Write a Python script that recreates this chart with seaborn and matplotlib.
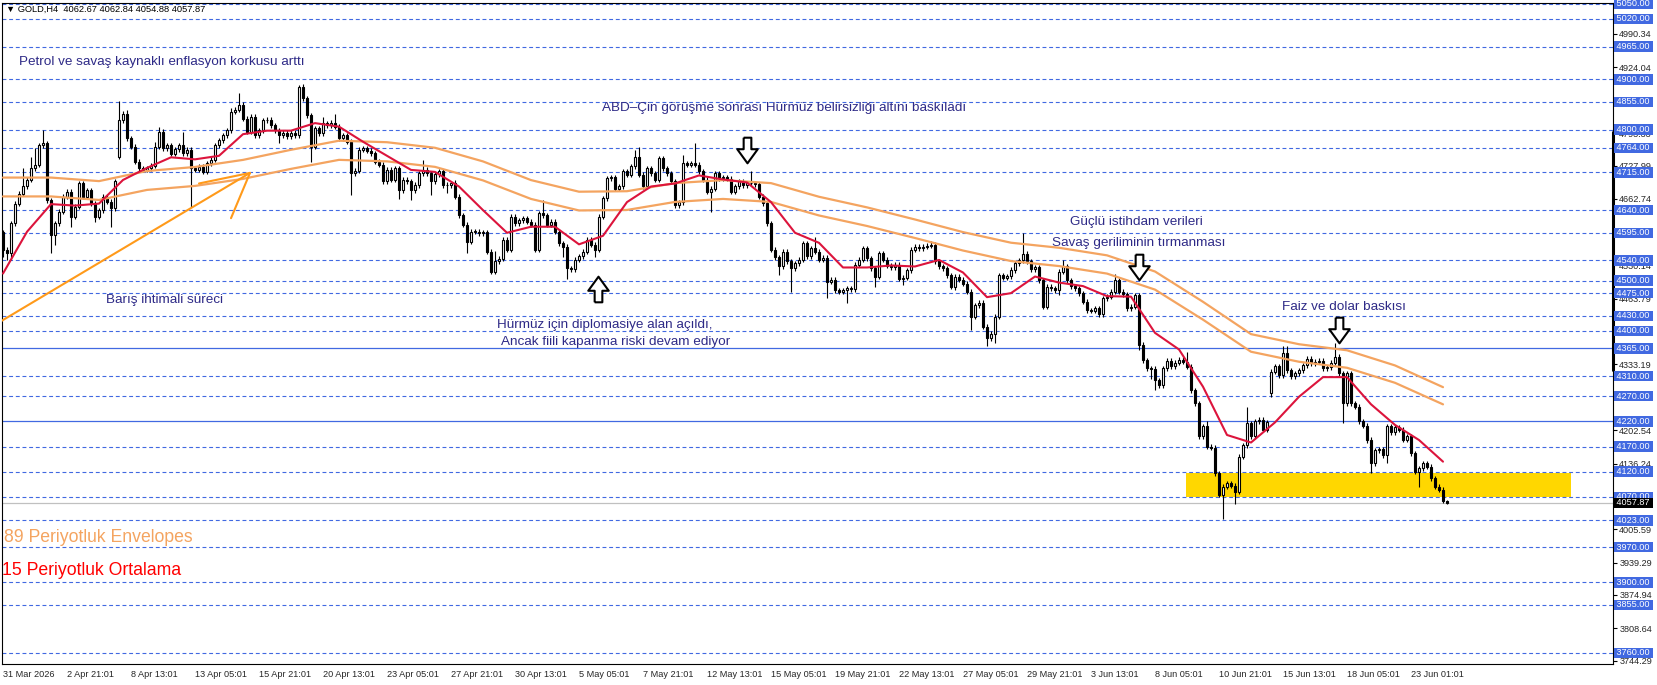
import numpy as np
import pandas as pd
import matplotlib
matplotlib.use("Agg")
import matplotlib.pyplot as plt
import seaborn as sns

# Grafik stili
sns.set_style("white")
plt.rcParams['font.family'] = ['Liberation Sans', 'DejaVu Sans']

# ---- Veri: GOLD H4 mumları (kapanışlar, fitiller) ----
first_open = 4597
closes = [
    4561, 4554, 4614, 4653, 4673, 4688, 4700, 4723, 4730, 4769,
    4773, 4660, 4591, 4614, 4637, 4667, 4677, 4627, 4647, 4693,
    4667, 4680, 4653, 4627, 4640, 4667, 4657, 4644, 4697, 4819,
    4832, 4783, 4766, 4736, 4723, 4720, 4723, 4728, 4766, 4796,
    4763, 4769, 4752, 4761, 4769, 4753, 4760, 4723, 4720, 4726,
    4716, 4733, 4740, 4769, 4779, 4789, 4799, 4836, 4840, 4849,
    4822, 4796, 4826, 4789, 4799, 4819, 4820, 4809, 4799, 4789,
    4794, 4787, 4794, 4789, 4885, 4862, 4829, 4766, 4803, 4793,
    4813, 4809, 4814, 4806, 4783, 4789, 4776, 4713, 4718, 4760,
    4763, 4758, 4753, 4736, 4730, 4697, 4720, 4700, 4723, 4680,
    4700, 4697, 4680, 4690, 4713, 4720, 4713, 4697, 4711, 4717,
    4690, 4689, 4693, 4667, 4630, 4611, 4577, 4597, 4597, 4594,
    4596, 4557, 4518, 4538, 4543, 4581, 4561, 4627, 4614, 4620,
    4624, 4617, 4611, 4561, 4634, 4630, 4611, 4617, 4597, 4574,
    4567, 4524, 4523, 4541, 4548, 4557, 4581, 4571, 4561, 4627,
    4664, 4703, 4705, 4683, 4687, 4717, 4710, 4727, 4746, 4710,
    4687, 4723, 4713, 4700, 4743, 4723, 4713, 4697, 4650, 4656,
    4733, 4730, 4733, 4730, 4717, 4700, 4677, 4683, 4713, 4703,
    4705, 4702, 4677, 4687, 4697, 4690, 4693, 4693, 4691, 4667,
    4654, 4614, 4561, 4546, 4528, 4557, 4538, 4524, 4534, 4541,
    4574, 4548, 4564, 4557, 4541, 4545, 4498, 4502, 4481, 4478,
    4481, 4485, 4483, 4531, 4541, 4564, 4544, 4524, 4508, 4554,
    4541, 4529, 4526, 4531, 4504, 4506, 4520, 4561, 4567, 4564,
    4567, 4569, 4571, 4538, 4528, 4524, 4511, 4488, 4508, 4502,
    4494, 4478, 4428, 4451, 4456, 4408, 4385, 4394, 4428, 4511,
    4506, 4509, 4521, 4534, 4540, 4553, 4538, 4522, 4526, 4501,
    4448, 4488, 4485, 4481, 4518, 4528, 4501, 4489, 4485, 4475,
    4458, 4441, 4440, 4445, 4433, 4465, 4468, 4478, 4501, 4478,
    4473, 4445, 4448, 4471, 4372, 4342, 4326, 4325, 4302, 4292,
    4326, 4341, 4330, 4337, 4343, 4339, 4329, 4282, 4256, 4190,
    4210, 4170, 4168, 4117, 4074, 4090, 4097, 4092, 4080, 4150,
    4173, 4216, 4190, 4220, 4223, 4203, 4218, 4319, 4330, 4312,
    4355, 4322, 4310, 4316, 4322, 4332, 4345, 4336, 4339, 4341,
    4326, 4328, 4337, 4349, 4316, 4256, 4316, 4256, 4249, 4220,
    4211, 4183, 4137, 4163, 4165, 4153, 4210, 4198, 4208, 4203,
    4184, 4190, 4157, 4120, 4127, 4137, 4130, 4107, 4090, 4084,
    4062.67, 4057.87,
]
# hafta sonu boşlukları (açılış != önceki kapanış)
gap_opens = {29: 4746, 317: 4276}

wick_up = [
    3, 5, 5, 5, 5, 35, 5, 23, 33, 5,
    26, 5, 5, 5, 5, 5, 5, 5, 5, 5,
    5, 5, 5, 5, 5, 5, 5, 5, 5, 37,
    5, 8, 5, 5, 5, 5, 5, 5, 10, 10,
    5, 5, 5, 5, 5, 27, 5, 5, 5, 5,
    5, 5, 5, 5, 5, 5, 5, 7, 5, 23,
    5, 5, 5, 5, 5, 5, 5, 5, 5, 5,
    5, 5, 5, 5, 4, 5, 5, 5, 5, 5,
    13, 5, 5, 18, 5, 5, 5, 5, 5, 5,
    5, 5, 5, 5, 5, 5, 5, 5, 5, 5,
    5, 5, 5, 5, 5, 20, 5, 5, 5, 5,
    5, 5, 5, 7, 5, 5, 5, 5, 5, 5,
    5, 5, 5, 21, 5, 5, 5, 5, 5, 5,
    5, 5, 5, 5, 5, 26, 5, 5, 5, 5,
    5, 5, 5, 5, 5, 5, 5, 5, 5, 5,
    5, 5, 5, 5, 5, 5, 5, 5, 14, 19,
    5, 5, 5, 5, 5, 5, 5, 5, 5, 5,
    17, 5, 5, 40, 5, 5, 5, 5, 5, 5,
    5, 5, 5, 5, 5, 5, 5, 24, 5, 5,
    5, 5, 5, 5, 5, 5, 5, 5, 5, 5,
    5, 5, 5, 23, 5, 5, 5, 5, 5, 5,
    5, 5, 5, 5, 5, 5, 5, 5, 5, 5,
    5, 5, 5, 5, 5, 5, 5, 5, 5, 5,
    5, 5, 8, 5, 5, 5, 5, 5, 5, 5,
    5, 5, 5, 5, 5, 5, 5, 5, 5, 5,
    5, 5, 5, 5, 5, 41, 5, 5, 5, 5,
    5, 5, 5, 5, 5, 13, 5, 5, 5, 5,
    5, 5, 5, 5, 5, 5, 5, 5, 13, 5,
    5, 5, 5, 5, 5, 5, 5, 5, 5, 5,
    5, 5, 5, 5, 5, 5, 19, 5, 5, 5,
    5, 10, 5, 5, 5, 5, 5, 5, 5, 5,
    5, 33, 5, 5, 5, 5, 5, 5, 5, 5,
    14, 14, 5, 5, 5, 5, 5, 5, 5, 5,
    5, 5, 5, 26, 5, 5, 5, 5, 5, 5,
    5, 5, 5, 5, 5, 5, 5, 5, 5, 5,
    5, 5, 5, 5, 5, 5, 5, 5, 5, 5,
    5, 0.17,
]
wick_dn = [
    14, 13, 13, 5, 5, 5, 5, 5, 5, 5,
    5, 5, 37, 20, 5, 5, 5, 20, 5, 5,
    5, 5, 5, 10, 5, 5, 5, 37, 5, 5,
    5, 5, 5, 5, 5, 5, 5, 5, 5, 5,
    5, 5, 5, 5, 5, 5, 5, 76, 5, 5,
    5, 5, 5, 5, 5, 5, 5, 5, 5, 5,
    5, 5, 5, 5, 5, 5, 5, 5, 5, 16,
    5, 5, 5, 5, 5, 5, 5, 30, 5, 5,
    5, 5, 5, 5, 5, 5, 5, 43, 5, 5,
    5, 5, 5, 5, 5, 5, 5, 5, 5, 17,
    5, 5, 20, 5, 5, 5, 5, 27, 5, 5,
    5, 15, 5, 5, 5, 5, 23, 5, 5, 5,
    5, 5, 5, 5, 5, 5, 5, 5, 5, 5,
    5, 5, 5, 5, 5, 5, 5, 5, 5, 5,
    20, 20, 5, 5, 5, 5, 5, 5, 14, 5,
    5, 5, 5, 5, 5, 5, 5, 5, 5, 5,
    5, 5, 5, 5, 5, 5, 5, 5, 5, 5,
    5, 5, 5, 5, 5, 5, 5, 40, 5, 5,
    5, 5, 5, 5, 5, 5, 5, 5, 5, 5,
    5, 5, 5, 5, 17, 5, 5, 46, 5, 5,
    5, 5, 5, 5, 5, 5, 33, 5, 5, 5,
    5, 26, 5, 5, 5, 5, 5, 5, 20, 5,
    5, 5, 5, 5, 5, 13, 5, 5, 5, 5,
    5, 5, 5, 5, 5, 5, 5, 5, 7, 5,
    5, 5, 26, 5, 5, 5, 16, 5, 19, 5,
    5, 5, 5, 5, 5, 5, 5, 5, 5, 5,
    5, 5, 5, 5, 10, 5, 5, 5, 5, 5,
    5, 5, 5, 5, 5, 5, 5, 5, 5, 5,
    5, 5, 5, 5, 10, 5, 5, 20, 19, 5,
    5, 5, 5, 5, 5, 5, 5, 5, 5, 5,
    5, 5, 5, 5, 5, 48, 5, 5, 24, 5,
    5, 5, 5, 5, 5, 5, 5, 7, 5, 5,
    5, 5, 5, 5, 5, 5, 5, 5, 5, 5,
    5, 5, 5, 5, 5, 40, 5, 5, 5, 5,
    5, 5, 19, 5, 5, 5, 16, 5, 5, 5,
    5, 5, 5, 5, 30, 5, 5, 5, 5, 5,
    5, 2.99,
]

# 15 periyotluk ortalama (her 6 mumda bir okunan değerler)
ma_step = 6
ma15 = [
    4514, 4597, 4652, 4649, 4653, 4700, 4724, 4745, 4741, 4748,
    4791, 4798, 4798, 4813, 4806, 4776, 4748, 4720, 4716, 4687,
    4640, 4595, 4607, 4607, 4572, 4589, 4656, 4687, 4693, 4709,
    4701, 4695, 4656, 4595, 4575, 4526, 4526, 4530, 4528, 4541,
    4516, 4467, 4475, 4508, 4496, 4489, 4469, 4468, 4396, 4363,
    4289, 4193, 4178, 4218, 4269, 4308, 4308, 4254, 4213, 4183,
    4140,
]
# 89 periyotluk envelopes orta hattı (her 12 mumda bir) ve sapma
env_step = 12
env_mid = [
    4686, 4686, 4679, 4699, 4707, 4721, 4741, 4759, 4756, 4745,
    4718, 4681, 4658, 4659, 4675, 4681, 4675, 4648, 4627, 4603,
    4578, 4557, 4547, 4532, 4500, 4440, 4376, 4356, 4344, 4314,
    4271,
]
env_dev = 0.004

# yatay seviyeler
dashed_levels = [5050, 5020, 4965, 4900, 4855, 4800, 4764, 4715, 4640, 4595,
                 4540, 4500, 4475, 4430, 4400, 4310, 4270, 4170, 4120, 4070,
                 4023, 3970, 3900, 3855, 3760]
solid_levels = [4365, 4220]
last_price = 4057.87
axis_ticks = [4990.34, 4924.04, 4793.33, 4727.99, 4662.74, 4530.14, 4463.79,
              4333.19, 4202.54, 4136.24, 4005.59, 3939.29, 3874.94, 3808.64,
              3744.29]

xtick_bars = list(range(0, 353, 16))
xtick_labels = ['31 Mar 2026', '2 Apr 21:01', '8 Apr 13:01', '13 Apr 05:01',
                '15 Apr 21:01', '20 Apr 13:01', '23 Apr 05:01', '27 Apr 21:01',
                '30 Apr 13:01', '5 May 05:01', '7 May 21:01', '12 May 13:01',
                '15 May 05:01', '19 May 21:01', '22 May 13:01', '27 May 05:01',
                '29 May 21:01', '3 Jun 13:01', '8 Jun 05:01', '10 Jun 21:01',
                '15 Jun 13:01', '18 Jun 05:01', '23 Jun 01:01']

# sarı destek bölgesi
zone_bars = [295.75, 392]
zone_lo, zone_hi = 4069, 4118

# turuncu ok (Barış ihtimali)
arrow_line_x = [-0.75, 61.75]
arrow_line_y = [4418, 4714]
arrow_head_x = [49, 61.75, 57]
arrow_head_y = [4693, 4714, 4624]

# blok oklar
block_bars = [186, 148.75, 284, 334]
block_prices = [4760, 4484, 4527, 4402]
block_dirs = ['down', 'up', 'down', 'down']

# notlar: (bar, fiyat, metin)
notes = [
    (4, 4934, 'Petrol ve savaş kaynaklı enflasyon korkusu arttı'),
    (149.75, 4843, 'ABD–Çin görüşme sonrası Hürmüz belirsizliği altını baskıladı'),
    (25.75, 4461, 'Barış ihtimali süreci'),
    (123.5, 4412, 'Hürmüz için diplomasiye alan açıldı,'),
    (124.5, 4378, 'Ancak fiili kapanma riski devam ediyor'),
    (266.75, 4616, 'Güçlü istihdam verileri'),
    (262.25, 4575, 'Savaş geriliminin tırmanması'),
    (319.75, 4447, 'Faiz ve dolar baskısı'),
]

BLUE = '#4169E1'
NOTE = '#2E2A87'

# ---- tablo ----
opens = [first_open] + closes[:-1]
for k, v in gap_opens.items():
    opens[k] = v
df = pd.DataFrame({'bar': np.arange(len(closes)), 'open': opens, 'close': closes,
                   'uw': wick_up, 'lw': wick_dn})
df['high'] = df[['open', 'close']].max(axis=1) + df['uw']
df['low'] = df[['open', 'close']].min(axis=1) - df['lw']
df['body'] = df['close'] - df['open']
up = df['body'] >= 0

ma_df = pd.DataFrame({'bar': np.arange(len(ma15)) * ma_step, 'ma': ma15})
env_df = pd.DataFrame({'bar': np.arange(len(env_mid)) * env_step, 'mid': env_mid})
env_df['upper'] = env_df['mid'] * (1 + env_dev)
env_df['lower'] = env_df['mid'] * (1 - env_dev)

fig = plt.figure(figsize=(16.58, 6.85), dpi=100)
ax = fig.add_axes([2 / 1658, 21 / 685, 1611 / 1658, 661 / 685])

# sarı bölge
ax.fill_between(zone_bars, zone_lo, zone_hi, color='#FFD700', lw=0, zorder=0.8)

# yatay çizgiler
for lvl in dashed_levels:
    ax.axhline(lvl, color=BLUE, lw=0.8, ls=(0, (3.5, 2.5)), zorder=1)
for lvl in solid_levels:
    ax.axhline(lvl, color=BLUE, lw=0.9, zorder=1)
ax.axhline(last_price, color='#C0C0C0', lw=0.9, zorder=1)

# mumlar
ax.vlines(df['bar'], df['low'], df['high'], color='black', lw=0.8, zorder=3)
ax.bar(df.loc[up, 'bar'], df.loc[up, 'body'].clip(lower=0.6), bottom=df.loc[up, 'open'],
       width=0.62, color='white', edgecolor='black', lw=0.8, zorder=4)
ax.bar(df.loc[~up, 'bar'], df.loc[~up, 'body'], bottom=df.loc[~up, 'open'],
       width=0.62, color='black', edgecolor='black', lw=0.8, zorder=4)

# göstergeler
sns.lineplot(data=env_df, x='bar', y='upper', color='#F4A460', lw=1.6, ax=ax, zorder=5)
sns.lineplot(data=env_df, x='bar', y='lower', color='#F4A460', lw=1.6, ax=ax, zorder=5)
sns.lineplot(data=ma_df, x='bar', y='ma', color='#DC143C', lw=1.5, ax=ax, zorder=6)

# turuncu ok
ax.plot(arrow_line_x, arrow_line_y, color='#FF9A1A', lw=1.5, zorder=6)
ax.plot(arrow_head_x, arrow_head_y, color='#FF9A1A', lw=1.5, zorder=6)

# blok oklar (içi boş kalın ok işareti)
down_shape = [(-0.3, 1), (0.3, 1), (0.3, 0.1), (0.8, 0.1), (0, -1),
              (-0.8, 0.1), (-0.3, 0.1), (-0.3, 1)]
up_shape = [(x, -y) for x, y in down_shape]
for bx, bp, d in zip(block_bars, block_prices, block_dirs):
    ax.scatter([bx], [bp], marker=down_shape if d == 'down' else up_shape, s=340,
               facecolors='white', edgecolors='black', linewidths=1.5, zorder=7)

# notlar
for nx, ny, txt in notes:
    ax.text(nx, ny, txt, fontsize=9.7, color=NOTE, ha='left', va='center', zorder=7)

ax.text(0.0012, 0.192, '89 Periyotluk Envelopes', transform=ax.transAxes,
        fontsize=12.7, color='#F4A460', ha='left', va='center')
ax.text(0.0, 0.1407, '15 Periyotluk Ortalama', transform=ax.transAxes,
        fontsize=12.7, color='#FF0000', ha='left', va='center')
ax.text(0.0025, 0.9905, '▼ GOLD,H4  4062.67 4062.84 4054.88 4057.87', transform=ax.transAxes,
        fontsize=6.7, color='black', ha='left', va='center')

# eksenler
ax.set_xlim(-0.25, 402.5)
ax.set_ylim(3737.7, 5051.8)
ax.yaxis.tick_right()
ax.set_yticks(axis_ticks)
ax.set_yticklabels([f'{v:.2f}' for v in axis_ticks], fontsize=6.6)
ax.set_xticks(xtick_bars)
ax.set_xticklabels(xtick_labels, fontsize=6.6, ha='left')
ax.tick_params(axis='both', direction='out', length=3, width=0.8, color='black', pad=1.5)
ax.set_xlabel('')
ax.set_ylabel('')
for sp in ax.spines.values():
    sp.set_color('black')
    sp.set_linewidth(0.8)

# sağ eksendeki kalın çubuk
ytr = ax.get_yaxis_transform()
ax.plot([1.0, 1.0], [4322, 4796], transform=ytr, color='black', lw=2.2, clip_on=False, zorder=8)

# seviye etiketleri
for lvl in dashed_levels + solid_levels:
    ax.text(1.0008, lvl, f' {lvl:.2f} ', transform=ytr, ha='left', va='center', fontsize=6.6,
            color='white', clip_on=False, zorder=10,
            bbox=dict(boxstyle='square,pad=0.08', fc=BLUE, ec='none'))
ax.text(1.0008, last_price, f' {last_price:.2f} ', transform=ytr, ha='left', va='center',
        fontsize=6.6, color='white', clip_on=False, zorder=10,
        bbox=dict(boxstyle='square,pad=0.08', fc='black', ec='none'))

fig.savefig('out.png', dpi=100)
